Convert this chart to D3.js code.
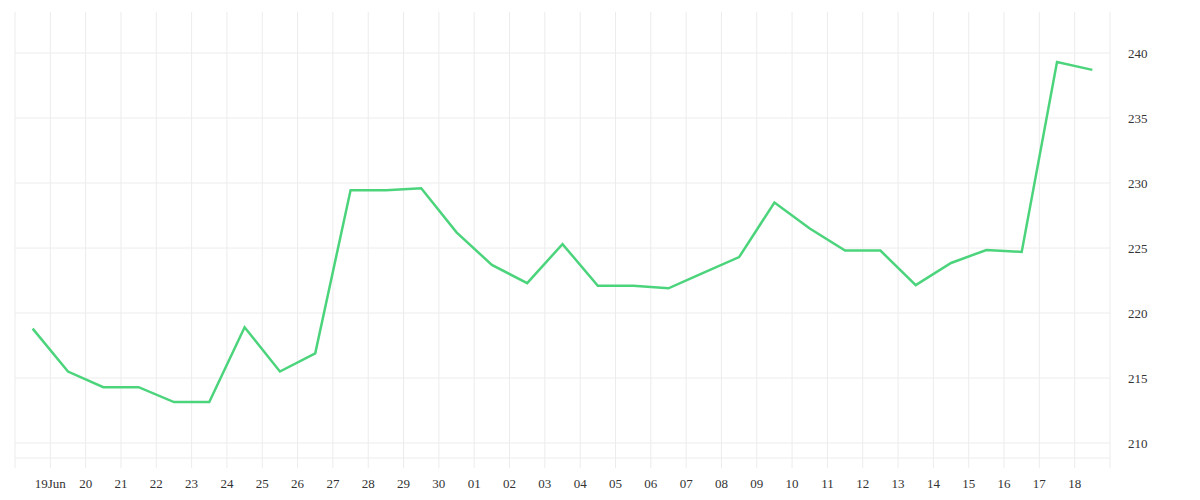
<!DOCTYPE html>
<html>
<head>
<meta charset="utf-8">
<script src="https://cdn.jsdelivr.net/npm/d3@7"></script>
<style>
  body { margin: 0; background: #fff; }
  text { font-family: "Liberation Serif", "DejaVu Serif", serif; }
</style>
</head>
<body>
<div id="chart-div"></div>
<script>
// data: one value per day, measured at noon
const startDay = "2023-06-18"
const values = [218.8, 215.5, 214.3, 214.3, 213.15, 213.15, 218.9, 215.5, 216.9, 229.45,
    229.45, 229.6, 226.2, 223.7, 222.3, 225.3, 222.1, 222.1, 221.9, 223.1,
    224.3, 228.5, 226.5, 224.8, 224.8, 222.15, 223.85, 224.85, 224.7, 239.3, 238.7]
const yTicks = [210, 215, 220, 225, 230, 235, 240]

const WIDTH = 1200
const HEIGHT = 500
const MARGIN_TOP = 12
const MARGIN_LEFT = 15
const MARGIN_RIGHT = 90
const MARGIN_BOTTOM = 42

const parse = d3.timeParse("%Y-%m-%d")
const t0 = parse(startDay)
const data = values.map((v, i) => ({ date: d3.timeHour.offset(d3.timeDay.offset(t0, i), 12), value: v }))

const svg = d3.select("#chart-div").append("svg")
    .attr("width", WIDTH)
    .attr("height", HEIGHT)

const x = d3.scaleTime()
    .domain([t0, d3.timeDay.offset(t0, values.length)])
    .range([MARGIN_LEFT, WIDTH - MARGIN_RIGHT])
const y = d3.scaleLinear()
    .domain([208.85, 243.15])
    .range([HEIGHT - MARGIN_BOTTOM, MARGIN_TOP])

const days = d3.timeDay.range(t0, d3.timeDay.offset(t0, values.length + 1))
const grid = "#ececec"

// vertical grid lines (extend below axis as ticks)
svg.append("g").selectAll("line")
    .data(days)
    .join("line")
    .attr("x1", d => x(d)).attr("x2", d => x(d))
    .attr("y1", MARGIN_TOP).attr("y2", HEIGHT - MARGIN_BOTTOM + 10)
    .attr("stroke", grid)

// horizontal grid lines
svg.append("g").selectAll("line")
    .data(yTicks)
    .join("line")
    .attr("x1", MARGIN_LEFT).attr("x2", WIDTH - MARGIN_RIGHT)
    .attr("y1", d => y(d)).attr("y2", d => y(d))
    .attr("stroke", grid)
svg.append("line")
    .attr("x1", MARGIN_LEFT).attr("x2", WIDTH - MARGIN_RIGHT)
    .attr("y1", HEIGHT - MARGIN_BOTTOM).attr("y2", HEIGHT - MARGIN_BOTTOM)
    .attr("stroke", grid)

// x labels
const fmt = d => d.getDate() === 19 && d.getMonth() === 5 ? "19Jun" : d3.timeFormat("%d")(d)
svg.append("g").selectAll("text")
    .data(days.slice(1, -1))
    .join("text")
    .attr("x", d => x(d))
    .attr("y", HEIGHT - 12)
    .attr("text-anchor", "middle")
    .attr("font-size", 13)
    .attr("fill", "#333")
    .text(fmt)

// y labels
svg.append("g").selectAll("text")
    .data(yTicks)
    .join("text")
    .attr("x", WIDTH - MARGIN_RIGHT + 18)
    .attr("y", d => y(d) + 5)
    .attr("font-size", 13)
    .attr("fill", "#333")
    .text(d => d)

const line = d3.line().x(d => x(d.date)).y(d => y(d.value))
svg.append("path")
    .datum(data)
    .attr("d", line)
    .attr("fill", "none")
    .attr("stroke", "#4cd47c")
    .attr("stroke-width", 2.5)
</script>
</body>
</html>
